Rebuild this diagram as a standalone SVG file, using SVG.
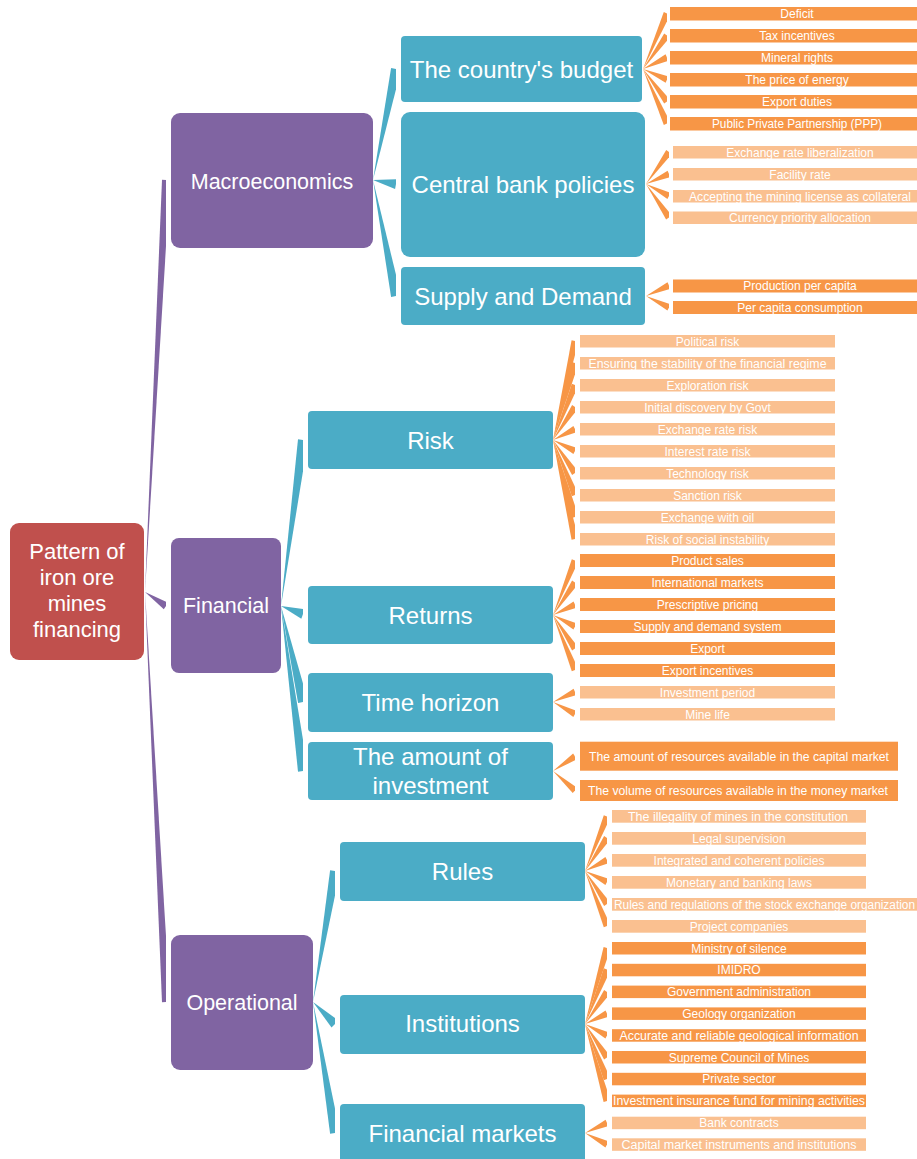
<svg xmlns="http://www.w3.org/2000/svg" width="917" height="1159" viewBox="0 0 917 1159">
<style>
.root{fill:#C0504D}
.l1{fill:#8064A2}
.l2{fill:#4BACC6}
.ld{fill:#F79646}
.ll{fill:#FAC090}
text{font-family:"Liberation Sans",Arial,sans-serif;fill:#ffffff;text-anchor:middle}
.t0{font-size:22px}
.t1{font-size:21.5px}
.t2{font-size:24px}
.t3{font-size:12px}
.cp{fill:#8064A2}
.cb{fill:#4BACC6}
.co{fill:#F79646}
</style>
<defs>
<clipPath id="c166"><rect x="0" y="0" width="166" height="1159"/></clipPath>
<clipPath id="c396"><rect x="0" y="0" width="396" height="1159"/></clipPath>
<clipPath id="c303"><rect x="0" y="0" width="303" height="1159"/></clipPath>
<clipPath id="c335"><rect x="0" y="0" width="335" height="1159"/></clipPath>
<clipPath id="c667"><rect x="0" y="0" width="667" height="1159"/></clipPath>
<clipPath id="c669"><rect x="0" y="0" width="669" height="1159"/></clipPath>
<clipPath id="c575"><rect x="0" y="0" width="575" height="1159"/></clipPath>
<clipPath id="c607"><rect x="0" y="0" width="607" height="1159"/></clipPath>
</defs>

<g id="connectors">
<g class="cp" clip-path="url(#c166)">
<polygon points="145,592 170,180.2 162,179.8"/>
<polygon points="145,592 163.8,609.3 168.2,602.7"/>
<polygon points="145,592 162,1002.2 170,1001.8"/>
</g>
<g class="cb" clip-path="url(#c396)">
<polygon points="373,180 400.9,70 391.1,68"/>
<polygon points="373,180 395.1,188.9 396.9,179.1"/>
<polygon points="373,180 391.1,297 400.9,295"/>
</g>
<g class="cb" clip-path="url(#c303)">
<polygon points="281,606 308,440.7 298,439.3"/>
<polygon points="281,606 301.3,618.7 304.7,609.3"/>
<polygon points="281,606 298.1,703.1 307.9,700.9"/>
<polygon points="281,606 298,771.7 308,770.3"/>
</g>
<g class="cb" clip-path="url(#c335)">
<polygon points="313,1002 339.9,871.8 330.1,870.2"/>
<polygon points="313,1002 331.5,1027.5 338.5,1020.5"/>
<polygon points="313,1002 330.1,1133.8 339.9,1132.2"/>
</g>
<g class="co" clip-path="url(#c667)">
<polygon points="643,69 670.2,14.9 663.8,12.1"/>
<polygon points="643,69 669.8,37.5 664.2,33.5"/>
<polygon points="643,69 668.5,60.7 665.5,54.3"/>
<polygon points="643,69 665.6,82.7 668.4,76.3"/>
<polygon points="643,69 664.2,103.6 669.8,99.4"/>
<polygon points="643,69 663.8,124.9 670.2,122.1"/>
</g>
<g class="co" clip-path="url(#c669)">
<polygon points="646,184 671.8,154 666.2,150"/>
<polygon points="646,184 670.4,177.2 667.6,170.8"/>
<polygon points="646,184 667.4,199.1 670.6,192.9"/>
<polygon points="646,184 666.1,219.5 671.9,215.5"/>
<polygon points="646,296 670.5,288.7 667.5,282.3"/>
<polygon points="646,296 667.4,310.6 670.6,304.4"/>
</g>
<g class="co" clip-path="url(#c575)">
<polygon points="553,440 578.4,341.8 571.6,340.2"/>
<polygon points="553,440 578.4,364 571.6,362"/>
<polygon points="553,440 578.3,386.3 571.8,383.7"/>
<polygon points="553,440 577.9,409 572.1,405"/>
<polygon points="553,440 576.6,432.1 573.4,425.9"/>
<polygon points="553,440 573.4,454.1 576.6,447.9"/>
<polygon points="553,440 572.1,475 577.9,471"/>
<polygon points="553,440 571.8,496.3 578.3,493.7"/>
<polygon points="553,440 571.6,518 578.4,516"/>
<polygon points="553,440 571.6,539.8 578.4,538.2"/>
<polygon points="553,615 578.3,561.8 571.8,559.2"/>
<polygon points="553,615 577.9,584.5 572.1,580.5"/>
<polygon points="553,615 576.5,607.7 573.5,601.4"/>
<polygon points="553,615 573.4,629.6 576.6,623.4"/>
<polygon points="553,615 572.1,650.4 577.9,646.6"/>
<polygon points="553,615 571.8,671.3 578.3,668.7"/>
<polygon points="553,702 576.4,695.2 573.6,688.8"/>
<polygon points="553,702 573.3,717.1 576.7,710.9"/>
<polygon points="553,771 576.9,759.4 573.1,753.6"/>
<polygon points="553,771 572.7,793.1 577.3,787.9"/>
</g>
<g class="co" clip-path="url(#c607)">
<polygon points="585,871 610.3,817.8 603.8,815.2"/>
<polygon points="585,871 609.9,840 604.1,836"/>
<polygon points="585,871 608.6,863.1 605.4,856.9"/>
<polygon points="585,871 605.4,885.1 608.6,878.9"/>
<polygon points="585,871 604.1,906 609.9,902"/>
<polygon points="585,871 603.8,927.3 610.3,924.7"/>
<polygon points="585,1024 610.4,949 603.6,947"/>
<polygon points="585,1024 610.3,970.8 603.8,968.2"/>
<polygon points="585,1024 609.9,994 604.1,990"/>
<polygon points="585,1024 608.5,1016.7 605.5,1010.4"/>
<polygon points="585,1024 605.4,1038.6 608.6,1032.4"/>
<polygon points="585,1024 604.1,1059.4 609.9,1055.6"/>
<polygon points="585,1024 603.8,1080.3 610.3,1077.7"/>
<polygon points="585,1024 603.6,1102 610.4,1100"/>
<polygon points="585,1133 608.4,1126.2 605.6,1119.8"/>
<polygon points="585,1133 605.4,1147.6 608.6,1141.4"/>
</g>
</g>

<g id="root"><rect class="root" x="10" y="523" width="134" height="137" rx="9"/>
<text class="t0" x="77" y="559">Pattern of</text><text class="t0" x="77" y="585">iron ore</text><text class="t0" x="77" y="611">mines</text><text class="t0" x="77" y="637">financing</text></g>

<g id="macroeconomics"><rect class="l1" x="171" y="113" width="202" height="135" rx="9"/><text class="t1" x="272" y="188.5">Macroeconomics</text></g>
<g id="financial"><rect class="l1" x="171" y="538" width="110" height="135" rx="8"/><text class="t1" x="226" y="613">Financial</text></g>
<g id="operational"><rect class="l1" x="171" y="935" width="142" height="135" rx="9"/><text class="t1" x="242" y="1010">Operational</text></g>

<g id="budget"><rect class="l2" x="401" y="36" width="241" height="66" rx="4"/><text class="t2" x="521.5" y="77.5">The country's budget</text></g>
<g id="central-bank"><rect class="l2" x="401" y="112" width="244" height="145" rx="9"/><text class="t2" x="523" y="193">Central bank policies</text></g>
<g id="supply-demand"><rect class="l2" x="401" y="267" width="244" height="58" rx="4"/><text class="t2" x="523" y="305">Supply and Demand</text></g>
<g id="risk"><rect class="l2" x="308" y="411" width="245" height="58" rx="4"/><text class="t2" x="430.5" y="448.5">Risk</text></g>
<g id="returns"><rect class="l2" x="308" y="586" width="245" height="58" rx="4"/><text class="t2" x="430.5" y="623.5">Returns</text></g>
<g id="time-horizon"><rect class="l2" x="308" y="673" width="245" height="59" rx="4"/><text class="t2" x="430.5" y="710.5">Time horizon</text></g>
<g id="amount-investment"><rect class="l2" x="308" y="742" width="245" height="58" rx="4"/><text class="t2" x="430.5" y="765">The amount of</text><text class="t2" x="430.5" y="794">investment</text></g>
<g id="rules"><rect class="l2" x="340" y="842" width="245" height="59" rx="4"/><text class="t2" x="462.5" y="879.5">Rules</text></g>
<g id="institutions"><rect class="l2" x="340" y="995" width="245" height="59" rx="4"/><text class="t2" x="462.5" y="1032">Institutions</text></g>
<g id="financial-markets"><rect class="l2" x="340" y="1104" width="245" height="62" rx="4"/><text class="t2" x="462.5" y="1142">Financial markets</text></g>

<g id="budget-leaves">
<g id="leaf-deficit"><rect class="ld" x="670" y="7" width="256" height="13.5"/><text class="t3" x="797" y="18">Deficit</text></g>
<g id="leaf-tax"><rect class="ld" x="670" y="29" width="256" height="13.5"/><text class="t3" x="797" y="40">Tax incentives</text></g>
<g id="leaf-mineral"><rect class="ld" x="670" y="51" width="256" height="13.5"/><text class="t3" x="797" y="62">Mineral rights</text></g>
<g id="leaf-energy"><rect class="ld" x="670" y="73" width="256" height="13.5"/><text class="t3" x="797" y="84">The price of energy</text></g>
<g id="leaf-export-duties"><rect class="ld" x="670" y="95" width="256" height="13.5"/><text class="t3" x="797" y="106">Export duties</text></g>
<g id="leaf-ppp"><rect class="ld" x="670" y="117" width="256" height="13.5"/><text class="t3" x="797" y="128" textLength="170" lengthAdjust="spacingAndGlyphs">Public Private Partnership (PPP)</text></g>
</g>
<g id="central-leaves">
<g id="leaf-exrate-lib"><rect class="ll" x="673" y="146" width="256" height="12.5"/><text class="t3" x="800" y="156.5">Exchange rate liberalization</text></g>
<g id="leaf-facility"><rect class="ll" x="673" y="168" width="256" height="12.5"/><text class="t3" x="800" y="178.5">Facility rate</text></g>
<g id="leaf-collateral"><rect class="ll" x="673" y="190" width="256" height="12.5"/><text class="t3" x="800" y="200.5" textLength="222" lengthAdjust="spacingAndGlyphs">Accepting the mining license as collateral</text></g>
<g id="leaf-currency"><rect class="ll" x="673" y="211.5" width="256" height="12.5"/><text class="t3" x="800" y="222">Currency priority allocation</text></g>
</g>
<g id="supply-leaves">
<g id="leaf-production"><rect class="ld" x="673" y="279.5" width="256" height="13"/><text class="t3" x="800" y="290">Production per capita</text></g>
<g id="leaf-consumption"><rect class="ld" x="673" y="301" width="256" height="13"/><text class="t3" x="800" y="311.5">Per capita consumption</text></g>
</g>
<g id="risk-leaves">
<g id="leaf-political"><rect class="ll" x="580" y="335" width="255" height="12.5"/><text class="t3" x="707.5" y="345.5">Political risk</text></g>
<g id="leaf-stability"><rect class="ll" x="580" y="357" width="255" height="12.5"/><text class="t3" x="707.5" y="367.5" textLength="238" lengthAdjust="spacingAndGlyphs">Ensuring the stability of the financial regime</text></g>
<g id="leaf-exploration"><rect class="ll" x="580" y="379" width="255" height="12.5"/><text class="t3" x="707.5" y="389.5">Exploration risk</text></g>
<g id="leaf-discovery"><rect class="ll" x="580" y="401" width="255" height="12.5"/><text class="t3" x="707.5" y="411.5">Initial discovery by Govt</text></g>
<g id="leaf-exrate-risk"><rect class="ll" x="580" y="423" width="255" height="12.5"/><text class="t3" x="707.5" y="433.5">Exchange rate risk</text></g>
<g id="leaf-interest"><rect class="ll" x="580" y="445" width="255" height="12.5"/><text class="t3" x="707.5" y="455.5">Interest rate risk</text></g>
<g id="leaf-technology"><rect class="ll" x="580" y="467" width="255" height="12.5"/><text class="t3" x="707.5" y="477.5">Technology risk</text></g>
<g id="leaf-sanction"><rect class="ll" x="580" y="489" width="255" height="12.5"/><text class="t3" x="707.5" y="499.5">Sanction risk</text></g>
<g id="leaf-oil"><rect class="ll" x="580" y="511" width="255" height="12.5"/><text class="t3" x="707.5" y="521.5">Exchange with oil</text></g>
<g id="leaf-social"><rect class="ll" x="580" y="533" width="255" height="12.5"/><text class="t3" x="707.5" y="543.5">Risk of social instability</text></g>
</g>
<g id="returns-leaves">
<g id="leaf-sales"><rect class="ld" x="580" y="554" width="255" height="13"/><text class="t3" x="707.5" y="564.8">Product sales</text></g>
<g id="leaf-intl"><rect class="ld" x="580" y="576" width="255" height="13"/><text class="t3" x="707.5" y="586.8">International markets</text></g>
<g id="leaf-pricing"><rect class="ld" x="580" y="598" width="255" height="13"/><text class="t3" x="707.5" y="608.8">Prescriptive pricing</text></g>
<g id="leaf-sd-system"><rect class="ld" x="580" y="620" width="255" height="13"/><text class="t3" x="707.5" y="630.8">Supply and demand system</text></g>
<g id="leaf-export"><rect class="ld" x="580" y="642" width="255" height="13"/><text class="t3" x="707.5" y="652.8">Export</text></g>
<g id="leaf-export-inc"><rect class="ld" x="580" y="664" width="255" height="13"/><text class="t3" x="707.5" y="674.8">Export incentives</text></g>
</g>
<g id="time-leaves">
<g id="leaf-period"><rect class="ll" x="580" y="686" width="255" height="12.5"/><text class="t3" x="707.5" y="696.5">Investment period</text></g>
<g id="leaf-minelife"><rect class="ll" x="580" y="708" width="255" height="12.5"/><text class="t3" x="707.5" y="718.5">Mine life</text></g>
</g>
<g id="amount-leaves">
<g id="leaf-capital"><rect class="ld" x="580" y="741.7" width="318" height="29"/><text class="t3" x="739" y="760.5" textLength="300" lengthAdjust="spacingAndGlyphs">The amount of resources available in the capital market</text></g>
<g id="leaf-money"><rect class="ld" x="580" y="780" width="318" height="21"/><text class="t3" x="738" y="794.8" textLength="300" lengthAdjust="spacingAndGlyphs">The volume of resources available in the money market</text></g>
</g>
<g id="rules-leaves">
<g id="leaf-illegality"><rect class="ll" x="612" y="810" width="254" height="12.7"/><text class="t3" x="738" y="820.5" textLength="220" lengthAdjust="spacingAndGlyphs">The illegality of mines in the constitution</text></g>
<g id="leaf-supervision"><rect class="ll" x="612" y="832" width="254" height="12.7"/><text class="t3" x="739" y="842.5">Legal supervision</text></g>
<g id="leaf-policies"><rect class="ll" x="612" y="854" width="254" height="12.7"/><text class="t3" x="739" y="864.5">Integrated and coherent policies</text></g>
<g id="leaf-monetary"><rect class="ll" x="612" y="876" width="254" height="12.7"/><text class="t3" x="739" y="886.5">Monetary and banking laws</text></g>
<g id="leaf-stock"><rect class="ll" x="612" y="898" width="310" height="12.7"/><text class="t3" x="614" y="908.5" style="text-anchor:start" textLength="301" lengthAdjust="spacingAndGlyphs">Rules and regulations of the stock exchange organization</text></g>
<g id="leaf-project"><rect class="ll" x="612" y="920" width="254" height="12.7"/><text class="t3" x="739" y="930.5">Project companies</text></g>
</g>
<g id="institutions-leaves">
<g id="leaf-ministry"><rect class="ld" x="612" y="942" width="254" height="12.5"/><text class="t3" x="739" y="952.5">Ministry of silence</text></g>
<g id="leaf-imidro"><rect class="ld" x="612" y="963.8" width="254" height="12.5"/><text class="t3" x="739" y="974.3">IMIDRO</text></g>
<g id="leaf-government"><rect class="ld" x="612" y="985.6" width="254" height="12.5"/><text class="t3" x="739" y="996.1">Government administration</text></g>
<g id="leaf-geology"><rect class="ld" x="612" y="1007.4" width="254" height="12.5"/><text class="t3" x="739" y="1017.9">Geology organization</text></g>
<g id="leaf-geoinfo"><rect class="ld" x="612" y="1029.2" width="254" height="12.5"/><text class="t3" x="739" y="1039.7" textLength="239" lengthAdjust="spacingAndGlyphs">Accurate and reliable geological information</text></g>
<g id="leaf-supreme"><rect class="ld" x="612" y="1051" width="254" height="12.5"/><text class="t3" x="739" y="1061.5">Supreme Council of Mines</text></g>
<g id="leaf-private"><rect class="ld" x="612" y="1072.8" width="254" height="12.5"/><text class="t3" x="739" y="1083.3">Private sector</text></g>
<g id="leaf-insurance"><rect class="ld" x="612" y="1094.6" width="254" height="12.5"/><text class="t3" x="739" y="1105.1" textLength="252" lengthAdjust="spacingAndGlyphs">Investment insurance fund for mining activities</text></g>
</g>
<g id="finmarket-leaves">
<g id="leaf-bank"><rect class="ll" x="612" y="1116.7" width="254" height="12.5"/><text class="t3" x="739" y="1127.2">Bank contracts</text></g>
<g id="leaf-capital-instr"><rect class="ll" x="612" y="1138.3" width="254" height="12.5"/><text class="t3" x="739" y="1148.8" textLength="235" lengthAdjust="spacingAndGlyphs">Capital market instruments and institutions</text></g>
</g>
</svg>
